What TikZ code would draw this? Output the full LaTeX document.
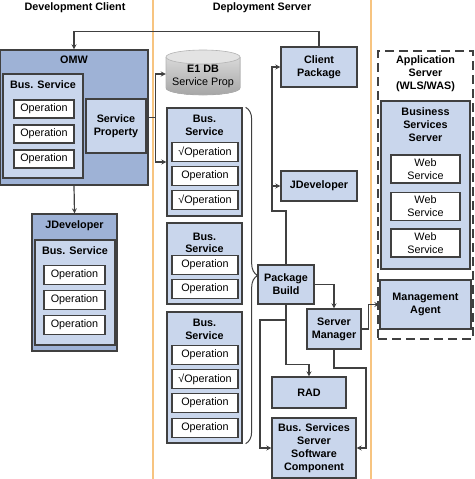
\documentclass[tikz,border=0pt]{standalone}
\usepackage{fontspec}
\setmainfont{Liberation Sans}
\usetikzlibrary{decorations.pathreplacing}
\definecolor{omwblue}{RGB}{158,178,214}
\definecolor{paleblue}{RGB}{201,214,236}
\definecolor{sepline}{RGB}{247,196,128}
\definecolor{edgegray}{RGB}{64,64,64}
\newcommand{\figsize}{\fontsize{10.8}{13}\selectfont}
\tikzset{
  head/.style={font=\figsize\bfseries, align=center, inner sep=0pt},
  outerbox/.style={draw=edgegray, line width=1.3pt, fill=omwblue, inner sep=0pt},
  innerbox/.style={draw=edgegray, line width=1.3pt, fill=paleblue, inner sep=0pt},
  box/.style={innerbox, font=\figsize\bfseries, align=center},
  op/.style={draw=edgegray, line width=1.3pt, fill=white, inner sep=0pt, minimum width=60pt, minimum height=18pt, font=\figsize, align=center},
  dashbox/.style={draw=edgegray, line width=2pt, dash pattern=on 9pt off 5pt, fill=white, inner sep=0pt},
  wire/.style={draw=edgegray, line width=1.2pt},
  sep/.style={draw=sepline, line width=1.2pt}
}
\begin{document}
\begin{tikzpicture}[x=1pt, y=-1pt, >=stealth]
\useasboundingbox (0,0) rectangle (474,479);
% separators and headings
\draw[sep] (153,0) -- (153,479);
\draw[sep] (371,0) -- (371,479);
\node[head] (devhead) at (75,8) {Development Client};
\node[head] (dephead) at (262,8) {Deployment Server};

% development client
\node[outerbox, minimum width=148pt, minimum height=135pt] (OMW) at (74,117.5) {};
\node[head] (OMWt) at (74,60) {OMW};
\node[innerbox, minimum width=80pt, minimum height=104pt] (BS1) at (43,126) {};
\node[head] (BS1t) at (43,85) {Bus. Service};
\foreach \y [count=\i] in {109,134,159}
  \node[op] (BS1op\i) at (44,\y) {Operation};
\node[box, minimum width=60pt, minimum height=54pt] (SP) at (116,126) {Service\\Property};

\node[outerbox, minimum width=85pt, minimum height=137pt] (JDL) at (74.5,282.5) {};
\node[head] (JDLt) at (74.5,226) {JDeveloper};
\node[innerbox, minimum width=80pt, minimum height=105pt] (BS2) at (75,292.5) {};
\node[head] (BS2t) at (75,251) {Bus. Service};
\foreach \y [count=\i] in {275,300,325}
  \node[op, minimum width=61pt, minimum height=19pt] (BS2op\i) at (74.5,\y) {Operation};

% deployment server
\fill[top color=gray!30, bottom color=gray!70] (166,57) -- (166,88) arc[start angle=180, end angle=360, x radius=37pt, y radius=7pt] -- (240,57) -- cycle;
\draw[gray!60, line width=0.6pt] (166,57) -- (166,88) arc[start angle=180, end angle=360, x radius=37pt, y radius=7pt] -- (240,57);
\filldraw[fill=gray!22, draw=gray!60, line width=0.6pt] (203,57) ellipse [x radius=37pt, y radius=7pt];
\node[font=\figsize, align=center, inner sep=0pt, minimum width=74pt, minimum height=36pt] (E1DB) at (203,76) {\textbf{E1 DB}\\Service Prop};

\node[innerbox, minimum width=75pt, minimum height=108pt] (MS1) at (204.5,162) {};
\node[head] (MS1t) at (204.5,125.5) {Bus.\\Service};
\foreach \y/\t [count=\i] in {152/√Operation,176/Operation,200/√Operation}
  \node[op, minimum width=66pt, minimum height=19pt] (MS1op\i) at (205,\y) {\t};

\node[innerbox, minimum width=75pt, minimum height=81pt] (MS2) at (204.5,263.5) {};
\node[head, font=\fontsize{10.8}{12.5}\selectfont\bfseries] (MS2t) at (204.5,243) {Bus.\\Service};
\foreach \y [count=\i] in {265,289}
  \node[op, minimum width=66pt, minimum height=19pt] (MS2op\i) at (205,\y) {Operation};

\node[innerbox, minimum width=75pt, minimum height=131pt] (MS3) at (204.5,377.5) {};
\node[head] (MS3t) at (204.5,329) {Bus.\\Service};
\foreach \y/\t [count=\i] in {355/Operation,379/√Operation,403/Operation,428/Operation}
  \node[op, minimum width=66pt, minimum height=19pt] (MS3op\i) at (205,\y) {\t};

\draw[draw=edgegray, line width=1pt, decorate, decoration={brace, amplitude=12pt}] ([xshift=3pt]MS1.north east) -- ([xshift=3pt]MS3.south east);

\node[box, minimum width=76pt, minimum height=40pt] (CP) at (319,67) {Client\\Package};
\node[box, minimum width=76pt, minimum height=30pt] (JDM) at (319,186) {JDeveloper};
\node[box, minimum width=56pt, minimum height=39pt] (PB) at (286,284.5) {Package\\Build};
\node[box, minimum width=54pt, minimum height=40pt] (SM) at (334,329) {Server\\Manager};
\node[box, minimum width=74pt, minimum height=31pt] (RAD) at (309,392.5) {RAD};
\node[box, minimum width=84pt, minimum height=60pt] (SC) at (314,448) {Bus. Services\\Server\\Software\\Component};

% application server
\node[dashbox, minimum width=95pt, minimum height=288pt] (AS) at (425.5,195) {};
\node[head] (ASt) at (425.5,74) {Application\\Server\\(WLS/WAS)};
\node[innerbox, minimum width=89pt, minimum height=168pt] (BSS) at (425.5,185) {};
\node[head] (BSSt) at (425.5,125) {Business\\Services\\Server};
\foreach \y [count=\i] in {169,206.5,243}
  \node[op, minimum width=69pt, minimum height=28pt] (WS\i) at (425.5,\y) {Web\\Service};
\node[box, minimum width=91pt, minimum height=49pt] (MA) at (425.5,304.5) {Management\\Agent};

% connectors
\draw[wire,->] (CP.north) -- ++(0,-15) -| (OMW.north);
\draw[wire,->] (OMW.east) -- ++(7,0) |- ([yshift=2pt]E1DB.west);
\draw[wire,->] (OMW.east) -- ++(7,0) |- (MS1.west);
\draw[wire,->] (OMW.south) -- (JDL.north);
\coordinate (pbup) at (272,211);
\draw[wire,->] (PB.north) |- (pbup) |- (CP.west);
\draw[wire,->] (pbup) |- (JDM.west);
\draw[wire,->] (PB.east) -| (SM.north);
\draw[wire,->] (SM.east) -- ++(7,0) |- (MA.west);
\draw[wire,->] (PB.south) -- ++(0,60) -| (RAD.north);
\coordinate (pbleft) at (260,320);
\draw[wire,->] (PB.south |- pbleft) -- (pbleft) |- (SC.west);
\coordinate (smright) at (366,368);
\draw[wire,->] (SM.south) |- (smright) |- (SC.east);
\end{tikzpicture}
\end{document}
